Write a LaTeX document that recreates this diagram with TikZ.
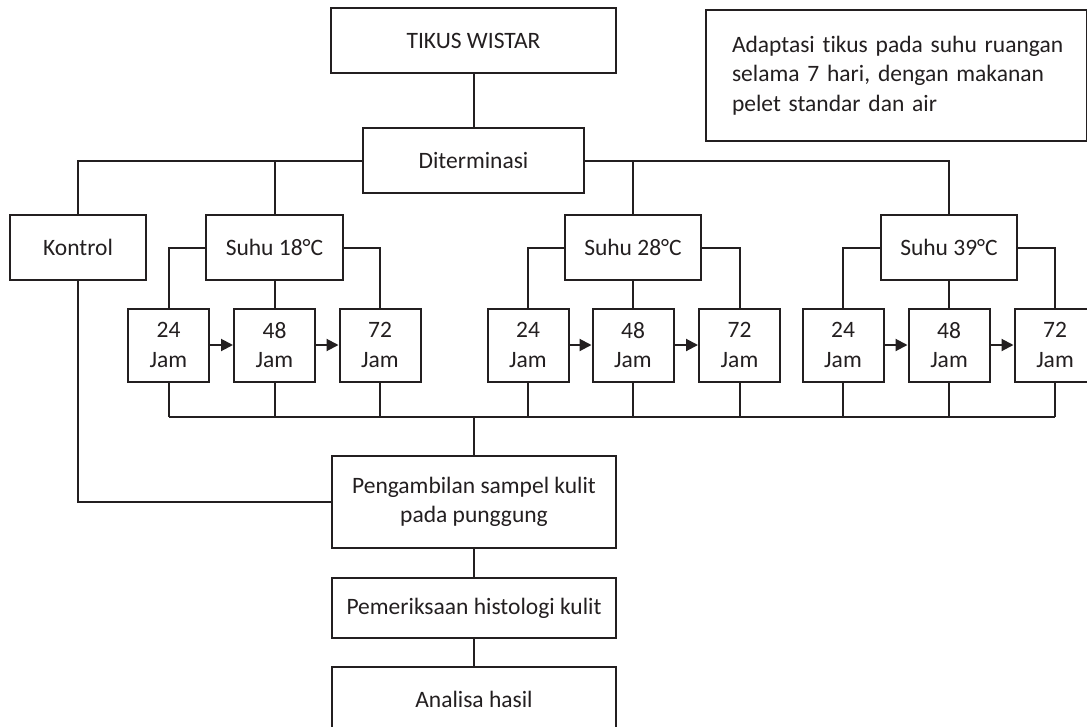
\documentclass[tikz,border=0pt]{standalone}
\usepackage{fontspec}
\setmainfont{Carlito}[Ligatures={NoCommon}]
\usetikzlibrary{arrows.meta}
\definecolor{ink}{HTML}{231F20}
\begin{document}
\begin{tikzpicture}[x=1pt,y=-1pt,
  every node/.style={font=\fontsize{23.5}{29.5}\selectfont, text=ink},
  box/.style={draw=ink, line width=2pt, align=center, inner sep=0pt},
  jam/.style={box, minimum width=81pt, minimum height=73pt},
  line/.style={draw=ink, line width=2pt},
  arr/.style={line, -{Triangle[length=12pt,width=12pt]}}]
\useasboundingbox[fill=white] (0,0) rectangle (1087,726);
% boxes
\node[box, minimum width=285pt, minimum height=65pt] (tikus) at (473.5,40.5) {TIKUS WISTAR};
\node[box, anchor=north west, minimum height=131pt, text width=381pt, inner xsep=0pt, align=left] (adapt) at (705,9) {\hspace*{26pt}Adaptasi tikus pada suhu ruangan\\\hspace*{26pt}selama 7 hari, dengan makanan\\\hspace*{26pt}pelet standar dan air};
\node[box, minimum width=221pt, minimum height=65pt] (dit) at (473.5,160.5) {Diterminasi};
\node[box, minimum width=136pt, minimum height=65pt] (kontrol) at (78,247.5) {Kontrol};
\node[box, minimum width=137pt, minimum height=65pt] (s18) at (274.5,247.5) {Suhu 18°C};
\node[box, minimum width=136pt, minimum height=65pt] (s28) at (633,247.5) {Suhu 28°C};
\node[box, minimum width=136pt, minimum height=65pt] (s39) at (949,247.5) {Suhu 39°C};
\node[jam] (j1) at (168.5,345) {24\\Jam};
\node[jam] (j2) at (274.5,345) {48\\Jam};
\node[jam] (j3) at (380,345) {72\\Jam};
\node[jam] (j4) at (528,345) {24\\Jam};
\node[jam] (j5) at (633,345) {48\\Jam};
\node[jam] (j6) at (739.5,345) {72\\Jam};
\node[jam] (j7) at (843,345) {24\\Jam};
\node[jam] (j8) at (949,345) {48\\Jam};
\node[jam] (j9) at (1055,345) {72\\Jam};
\node[box, minimum width=284pt, minimum height=92pt] (peng) at (474,502) {Pengambilan sampel kulit\\pada punggung};
\node[box, minimum width=284pt, minimum height=60pt] (pem) at (474,608) {Pemeriksaan histologi kulit};
\node[box, minimum width=284pt, minimum height=64pt] (ana) at (474,699) {Analisa hasil};
\coordinate (bus) at (474,417);
% connectors
\draw[line] (tikus.south) -- (dit.north);
\draw[line] (dit.west) -| (kontrol.north);
\draw[line] (dit.west) -| (s18.north);
\draw[line] (dit.east) -| (s28.north);
\draw[line] (dit.east) -| (s39.north);
\foreach \s/\a/\b/\c in {s18/j1/j2/j3, s28/j4/j5/j6, s39/j7/j8/j9}{
  \draw[line] (\s.west) -| (\a.north);
  \draw[line] (\s.east) -| (\c.north);
  \draw[line] (\s.south) -- (\b.north);
  \draw[arr] (\a.east) -- (\b.west);
  \draw[arr] (\b.east) -- (\c.west);
}
\foreach \j in {j1,j2,j3,j4,j5,j6,j7,j8,j9}{
  \draw[line] (\j.south) -- (\j.south |- bus);
}
\draw[line] (j1.south |- bus) -- (j9.south |- bus);
\draw[line] (bus) -- (peng.north);
\draw[line] (kontrol.south) |- (peng.west);
\draw[line] (peng.south) -- (pem.north);
\draw[line] (pem.south) -- (ana.north);
\end{tikzpicture}
\end{document}
